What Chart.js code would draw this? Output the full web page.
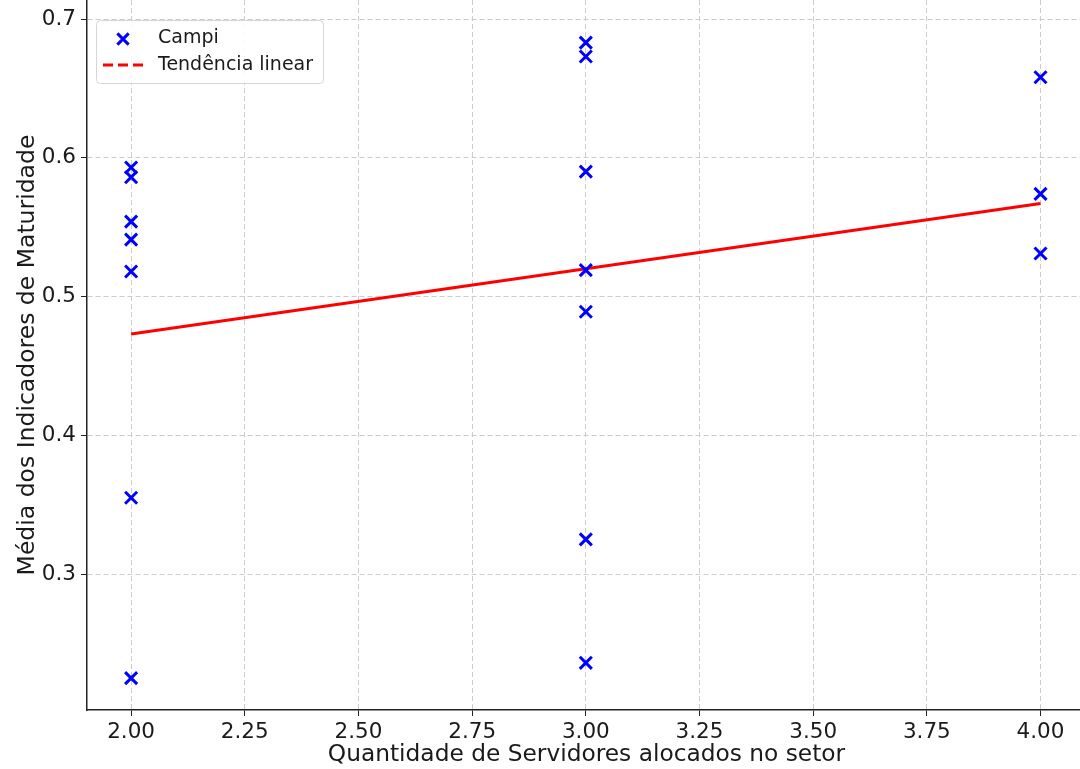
<!DOCTYPE html>
<html>
<head>
<meta charset="utf-8">
<script src="https://cdn.jsdelivr.net/npm/chart.js@4.4.1/dist/chart.umd.min.js"></script>
<style>
  html, body { margin: 0; padding: 0; background: #fff; overflow: hidden; }
  #wrap { width: 1086px; height: 769px; }
</style>
</head>
<body>
<div id="wrap"><canvas id="chart" width="1086" height="769"></canvas></div>
<script>
// servidores por campus (x) e média dos indicadores (y)
const campiX = [2, 2, 2, 2, 2, 2, 2, 3, 3, 3, 3, 3, 3, 3, 4, 4, 4];
const campiY = [0.593, 0.586, 0.554, 0.541, 0.518, 0.355, 0.225,
                0.683, 0.673, 0.590, 0.519, 0.489, 0.325, 0.236,
                0.658, 0.574, 0.531];
const trendX = [2, 4];
const trendY = [0.473, 0.567];
const xTicks = [2.00, 2.25, 2.50, 2.75, 3.00, 3.25, 3.50, 3.75, 4.00];
const yTicks = [0.3, 0.4, 0.5, 0.6, 0.7];

const textColor = '#1a1a1a';
const gridColor = '#cccccc';

// legenda desenhada dentro da área do gráfico, como no original
const insideLegend = {
  id: 'insideLegend',
  afterDraw(chart) {
    const ctx = chart.ctx;
    ctx.save();
    ctx.beginPath();
    ctx.roundRect(96.5, 20.5, 227, 63, 4);
    ctx.fillStyle = 'rgba(255,255,255,0.85)';
    ctx.fill();
    ctx.strokeStyle = '#d6d6d6';
    ctx.lineWidth = 1;
    ctx.stroke();

    ctx.strokeStyle = '#0000ff';
    ctx.lineWidth = 3;
    Chart.helpers.drawPoint(ctx, { pointStyle: 'crossRot', radius: 8, rotation: 0, borderWidth: 3 }, 123, 39);

    ctx.beginPath();
    ctx.setLineDash([10, 5]);
    ctx.strokeStyle = '#ff0000';
    ctx.lineWidth = 3;
    ctx.moveTo(103, 65);
    ctx.lineTo(143, 65);
    ctx.stroke();
    ctx.setLineDash([]);

    ctx.fillStyle = textColor;
    ctx.font = '19px "DejaVu Sans"';
    ctx.textBaseline = 'middle';
    chart.data.datasets.forEach((ds, i) => {
      ctx.fillText(ds.label, 158, 38 + i * 27);
    });
    ctx.restore();
  }
};

new Chart(document.getElementById('chart'), {
  type: 'scatter',
  data: {
    datasets: [
      {
        label: 'Campi',
        data: campiX.map((x, i) => ({ x: x, y: campiY[i] })),
        pointStyle: 'crossRot',
        pointRadius: 8.5,
        pointBorderWidth: 3,
        borderColor: '#0000ff',
        backgroundColor: '#0000ff'
      },
      {
        label: 'Tendência linear',
        type: 'line',
        data: trendX.map((x, i) => ({ x: x, y: trendY[i] })),
        borderColor: '#ff0000',
        borderWidth: 3,
        pointRadius: 0,
        fill: false
      }
    ]
  },
  options: {
    responsive: false,
    animation: false,
    events: [],
    layout: { padding: 0, autoPadding: false },
    plugins: {
      legend: { display: false },
      tooltip: { enabled: false }
    },
    scales: {
      x: {
        type: 'linear',
        min: 1.903,
        max: 4.1,
        afterBuildTicks: s => { s.ticks = xTicks.map(v => ({ value: v })); },
        afterFit: s => { s.height = 59; s.paddingLeft = 0; s.paddingRight = 0; },
        grid: {
          color: gridColor,
          lineWidth: 1,
          tickColor: '#222',
          tickLength: 6,
          tickBorderDash: [],
          drawTicks: true
        },
        border: { display: true, color: '#222', width: 1.5, dash: [5, 3] },
        ticks: {
          color: textColor,
          font: { family: 'DejaVu Sans', size: 21.5 },
          padding: 4,
          maxRotation: 0,
          autoSkip: false,
          callback: v => v.toFixed(2)
        },
        title: {
          display: true,
          text: 'Quantidade de Servidores alocados no setor',
          color: textColor,
          font: { family: 'DejaVu Sans', size: 23.3 },
          padding: { top: 0, bottom: 0 }
        }
      },
      y: {
        min: 0.202,
        max: 0.7137,
        afterBuildTicks: s => { s.ticks = yTicks.map(v => ({ value: v })); },
        afterFit: s => { s.width = 87; s.paddingTop = 0; s.paddingBottom = 0; },
        grid: {
          color: gridColor,
          lineWidth: 1,
          tickColor: '#222',
          tickLength: 6,
          tickBorderDash: [],
          drawTicks: true
        },
        border: { display: true, color: '#222', width: 1.5, dash: [5, 3] },
        ticks: {
          color: textColor,
          font: { family: 'DejaVu Sans', size: 21.5 },
          padding: 5,
          autoSkip: false,
          callback: v => v.toFixed(1)
        },
        title: {
          display: true,
          text: 'Média dos Indicadores de Maturidade',
          color: textColor,
          font: { family: 'DejaVu Sans', size: 23.5 },
          padding: { top: 14, bottom: 0 }
        }
      }
    }
  },
  plugins: [insideLegend]
});
</script>
</body>
</html>
